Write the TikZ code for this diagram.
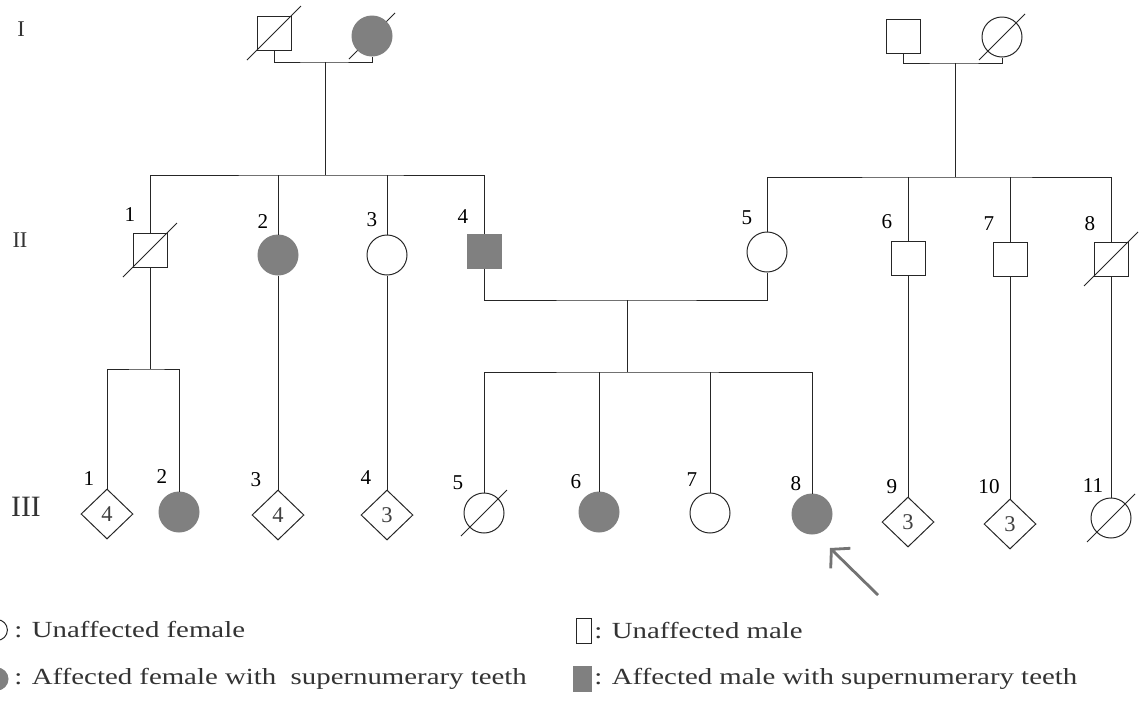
\documentclass[tikz,border=0pt]{standalone}
\usepackage{fontspec}
\setmainfont{Liberation Serif}
\newfontfamily\keyfont[FakeStretch=1.25]{Liberation Serif}
\usetikzlibrary{shapes.geometric, arrows.meta, backgrounds}
\newcommand{\deceased}[2]{\draw[link] ([shift={(-#2,#2)}]#1.center) -- ([shift={(#2,-#2)}]#1.center);}

\begin{document}
\begin{tikzpicture}[x=0.025cm, y=-0.025cm]
	\tikzstyle{person}=[draw=black!85, line width=0.7pt, inner sep=0pt]
	\tikzstyle{male}=[person, rectangle, minimum size=0.85cm]
	\tikzstyle{female}=[person, circle, minimum size=1cm]
	\tikzstyle{sibship}=[person, diamond, minimum width=1.3cm, minimum height=1.25cm, text=black!75, font=\fontsize{16}{16}\selectfont]
	\tikzstyle{affected}=[fill=black!50, draw=black!50]
	\tikzstyle{link}=[draw=black!85, line width=0.7pt]
	\tikzstyle{num}=[inner sep=0pt, font=\fontsize{15}{15}\selectfont]
	\tikzstyle{gen}=[inner sep=0pt, text=black!80]
	\tikzstyle{keytext}=[anchor=west, inner sep=0pt, text=black!80, font=\keyfont\fontsize{16.4}{18}\selectfont]
	\tikzstyle{proband}=[draw=black!55, line width=2pt, -{Straight Barb[length=0.32cm, width=0.7cm]}]

	\useasboundingbox (0,0) rectangle (1146,718);

	% Draw the generation labels
	\node[gen, font=\fontsize{16}{16}\selectfont] (gen-I) at (21,29) {I};
	\node[gen, font=\fontsize{16}{16}\selectfont] (gen-II) at (20,240) {II};
	\node[gen, font=\fontsize{21}{21}\selectfont] (gen-III) at (26,507) {III};

	% Draw generation I
	\node[male] (I-1) at (274,33) {};
	\node[female, affected] (I-2) at (372,36) {};
	\node[male] (I-3) at (903,36) {};
	\node[female] (I-4) at (1002,37) {};

	% Draw generation II
	\node[male] (II-1) at (150,250) {};
	\node[female, affected] (II-2) at (278,255) {};
	\node[female] (II-3) at (387,255) {};
	\node[male, affected] (II-4) at (484,251) {};
	\node[female] (II-5) at (767,252) {};
	\node[male] (II-6) at (908,258) {};
	\node[male] (II-7) at (1010,259) {};
	\node[male] (II-8) at (1111,259) {};

	% Draw generation III, the diamonds hold the number of sibs
	\node[sibship] (III-1) at (107,514) {4};
	\node[female, affected] (III-2) at (179,512) {};
	\node[sibship] (III-3) at (278,515) {4};
	\node[sibship] (III-4) at (387,515) {3};
	\node[female] (III-5) at (484,513) {};
	\node[female, affected] (III-6) at (599,512) {};
	\node[female] (III-7) at (710,513) {};
	\node[female, affected] (III-8) at (812,514) {};
	\node[sibship] (III-9) at (908,522) {3};
	\node[sibship] (III-10) at (1010,524) {3};
	\node[female] (III-11) at (1111,518) {};

	% Number the individuals
	\foreach \n/\dx/\dy in {1/-20/-35, 2/-15/-33, 3/-15/-35, 4/-21/-34, 5/-20/-34, 6/-21/-36, 7/-21/-35, 8/-21/-35}
		\node[num] (l-II-\n) at ([shift={(\dx,\dy)}]II-\n.center) {\n};
	\foreach \n/\dx/\dy in {1/-18/-35, 2/-17/-35, 3/-22/-35, 4/-21/-37, 5/-26/-30, 6/-23/-30, 7/-18/-33, 8/-16/-30, 9/-16/-35, 10/-21/-37, 11/-18/-32}
		\node[num] (l-III-\n) at ([shift={(\dx,\dy)}]III-\n.center) {\n};

	% Deceased, behind the filled symbols
	\begin{scope}[on background layer]
		\fill[white] (0,0) rectangle (1146,718);
		\deceased{I-1}{27}
		\deceased{I-2}{23}
		\deceased{I-4}{23}
		\deceased{II-1}{27}
		\deceased{II-8}{27}
		\deceased{III-5}{23}
		\deceased{III-11}{24}
	\end{scope}

	% Couples in generation I and their sibships
	\coordinate (m-I-1) at (325,62);
	\coordinate (m-I-2) at (955,63);
	\coordinate (s-II-1) at (325,175);
	\coordinate (s-II-2) at (955,177);
	\draw[link] (I-1.south) |- (m-I-1) -| (I-2.south);
	\draw[link] (I-3.south) |- (m-I-2) -| (I-4.south);
	\draw[link] (m-I-1) -- (s-II-1);
	\draw[link] (m-I-2) -- (s-II-2);
	\draw[link] (II-1.north) |- (s-II-1) -| (II-4.north);
	\draw[link] (II-5.north) |- (s-II-2) -| (II-8.north);
	\foreach \n in {2,3}
		\draw[link] (II-\n.north) -- (II-\n.north |- s-II-1);
	\foreach \n in {6,7}
		\draw[link] (II-\n.north) -- (II-\n.north |- s-II-2);

	% Couple in generation II and their sibship
	\coordinate (m-II) at (627,300);
	\coordinate (s-III-2) at (627,372);
	\draw[link] (II-4.south) |- (m-II) -| (II-5.south);
	\draw[link] (m-II) -- (s-III-2);
	\draw[link] (III-5.north) |- (s-III-2) -| (III-8.north);
	\foreach \n in {6,7}
		\draw[link] (III-\n.north) -- (III-\n.north |- s-III-2);

	% Children of II-1
	\coordinate (s-III-1) at (150,369);
	\draw[link] (II-1.south) -- (s-III-1);
	\draw[link] (III-1.north) |- (s-III-1) -| (III-2.north);

	% Single lines of descent
	\draw[link] (II-2.south) -- (III-3.north);
	\draw[link] (II-3.south) -- (III-4.north);
	\draw[link] (II-6.south) -- (III-9.north);
	\draw[link] (II-7.south) -- (III-10.north);
	\draw[link] (II-8.south) -- (III-11.north);

	% Proband
	\coordinate (proband-tail) at (878,595);
	\draw[proband] (proband-tail) -- ([shift={(18,34)}]III-8.center);

	% Key
	\node[female, minimum size=0.52cm] (key-1) at (-3,630) {};
	\node[keytext] (key-1-text) at (14,630) {: Unaffected female};
	\node[female, affected, minimum size=0.55cm] (key-2) at (-3,679) {};
	\node[keytext] (key-2-text) at (14,679) {: Affected female with~ supernumerary teeth};
	\node[male, minimum width=0.38cm, minimum height=0.62cm] (key-3) at (584,631) {};
	\node[keytext] (key-3-text) at (594,631) {: Unaffected male};
	\node[male, affected, minimum width=0.45cm, minimum height=0.62cm] (key-4) at (582,679) {};
	\node[keytext] (key-4-text) at (594,679) {: Affected male with supernumerary teeth};
\end{tikzpicture}
\end{document}
